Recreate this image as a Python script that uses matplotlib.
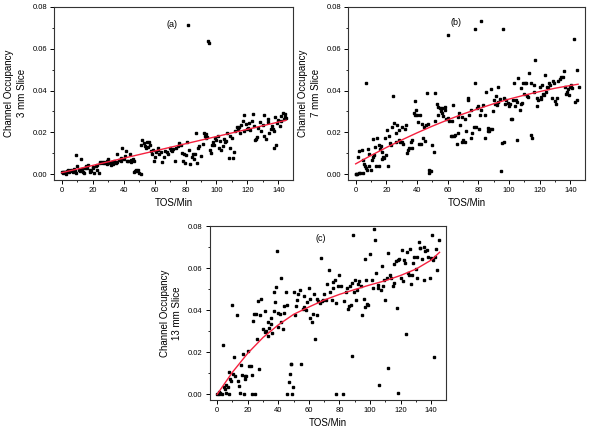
import matplotlib
matplotlib.use('Agg')
import matplotlib.pyplot as plt
from matplotlib.ticker import MultipleLocator

plt.rcParams['font.family'] = ['Liberation Sans', 'DejaVu Sans']

# panel (a) - 3 mm slice
a_x = [0, 0.5, 1, 1.5, 2, 2.5, 3, 3.5, 4, 4.5, 5, 6, 6.5, 7, 8, 8.5, 9, 9.5, 10, 11,
       12, 12.5, 13, 14, 14.5, 15, 16, 16.5, 17, 18, 18.5, 19, 20, 20.5, 21, 22, 22.5, 23, 24, 24.5,
       25, 26, 26.5, 27, 28, 29, 29.5, 30, 31, 32, 32.5, 33, 34, 35, 35.5, 36, 37, 38, 38.5, 39,
       40, 41, 41.5, 42, 43, 44, 44.5, 45, 46, 46.5, 47, 47.5, 48, 48.5, 49, 50, 51, 51.5, 52, 53,
       54, 54.5, 55, 56, 56.5, 57, 58, 58.5, 59, 59.5, 60, 61, 62, 62.5, 63, 64, 65, 66, 67, 68,
       69, 70, 70.5, 71, 72, 73, 74, 75, 76, 77, 78, 78.5, 79, 79.5, 80, 81, 81.5, 82, 83, 84,
       85, 85.5, 86, 87, 87.5, 88, 89, 90, 91, 92, 92.5, 93, 93.5, 94, 94.5, 95, 96, 96.5, 97, 98,
       98.5, 99, 100, 101, 101.5, 102, 103, 104, 105, 105.5, 106, 107, 108, 108.5, 109, 110, 111, 111.5, 112, 113,
       114, 114.5, 115, 116, 117, 117.5, 118, 119, 120, 120.5, 121, 122, 123, 123.5, 124, 125, 125.5, 126, 127, 128,
       129, 130, 130.5, 131, 132, 133, 133.5, 134, 135, 136, 136.5, 137, 137.5, 138, 138.5, 139, 140, 141, 141.5, 142,
       143, 143.5, 144, 144.5, 145]
a_y = [0.0012, 0.0008, 0.001, 0.0013, 0.0009, 0.0011, 0.0002, 0.0015, 0.002, 0.0012, 0.0018, 0.0022, 0.0015, 0.001, 0.0025, 0.0018, 0.0005, 0.0093, 0.0038, 0.0022,
       0.0018, 0.0072, 0.0025, 0.0012, 0.0008, 0.0032, 0.0042, 0.0028, 0.0045, 0.0012, 0.0022, 0.0015, 0.0035, 0.0028, 0.0005, 0.0038, 0.0022, 0.0045, 0.0005, 0.0055,
       0.0058, 0.006, 0.0052, 0.0058, 0.0055, 0.0048, 0.0065, 0.0072, 0.0055, 0.0045, 0.0058, 0.0048, 0.0062, 0.0055, 0.0095, 0.0058, 0.0068, 0.0078, 0.0065, 0.0125,
       0.0072, 0.0088, 0.011, 0.0065, 0.0062, 0.0095, 0.0068, 0.0058, 0.0072, 0.0065, 0.0012, 0.0015, 0.002, 0.0018, 0.0022, 0.0005, 0.0002, 0.014, 0.0163, 0.0148,
       0.0135, 0.0125, 0.0152, 0.013, 0.0155, 0.014, 0.011, 0.0095, 0.0115, 0.0065, 0.0085, 0.0105, 0.0118, 0.0125, 0.0098, 0.0105, 0.0058, 0.0082, 0.0112, 0.0108,
       0.0095, 0.0125, 0.0118, 0.0112, 0.012, 0.0062, 0.0128, 0.0135, 0.0148, 0.0142, 0.0102, 0.0062, 0.0095, 0.0052, 0.0092, 0.0155, 0.0715, 0.0118, 0.0048, 0.0085,
       0.0095, 0.0072, 0.0098, 0.0198, 0.0055, 0.0128, 0.0135, 0.0088, 0.0145, 0.0195, 0.0185, 0.0192, 0.0172, 0.0178, 0.0635, 0.0625, 0.0118, 0.0102, 0.0142, 0.0155,
       0.0142, 0.0172, 0.0162, 0.0185, 0.0128, 0.0158, 0.0118, 0.0135, 0.0168, 0.0152, 0.0158, 0.0195, 0.0078, 0.0182, 0.0125, 0.0172, 0.0078, 0.0108, 0.0205, 0.0228,
       0.0215, 0.0225, 0.0198, 0.0235, 0.0255, 0.0282, 0.0208, 0.0242, 0.0218, 0.0222, 0.0245, 0.0212, 0.0255, 0.0288, 0.0232, 0.0162, 0.0168, 0.0178, 0.0222, 0.0252,
       0.0205, 0.0235, 0.0182, 0.0285, 0.0168, 0.0252, 0.0262, 0.0198, 0.0215, 0.0232, 0.0218, 0.0208, 0.0125, 0.0275, 0.0142, 0.0245, 0.0258, 0.0232, 0.0255, 0.0278,
       0.0292, 0.0265, 0.0288, 0.0275, 0.0268]
a_fit_x = [0, 145]
a_fit_y = [0.0008, 0.0258]

# panel (b) - 7 mm slice
b_x = [0, 0.5, 1, 1.5, 2, 2.5, 3, 4, 4.5, 5, 5.5, 6, 6.5, 7, 7.5, 8, 8.5, 9, 10, 10.5,
       11, 11.5, 12, 12.5, 13, 14, 15, 15.5, 16, 16.5, 17, 17.5, 18, 18.5, 19, 20, 20.5, 21, 22, 22.5,
       23, 24, 24.5, 25, 26, 26.5, 27, 28, 28.5, 29, 30, 30.5, 31, 32, 33, 33.5, 34, 35, 36, 36.5,
       37, 38, 38.5, 39, 39.5, 40, 40.5, 41, 42, 42.5, 43, 44, 44.5, 45, 46, 46.5, 47, 47.5, 48, 48.5,
       49, 50, 51, 51.5, 52, 53, 53.5, 54, 55, 55.5, 56, 56.5, 57, 58, 58.5, 59, 60, 60.5, 61, 62,
       62.5, 63, 63.5, 64, 65, 66, 66.5, 67, 67.5, 68, 69, 69.5, 70, 71, 71.5, 72, 73, 73.5, 74, 75,
       75.5, 76, 77, 77.5, 78, 78.5, 79, 80, 80.5, 81, 81.5, 82, 83, 84, 84.5, 85, 86, 86.5, 87, 87.5,
       88, 89, 89.5, 90, 91, 91.5, 92, 92.5, 93, 94, 95, 95.5, 96, 96.5, 97, 97.5, 98, 99, 100, 100.5,
       101, 102, 102.5, 103, 104, 104.5, 105, 105.5, 106, 107, 107.5, 108, 108.5, 109, 110, 110.5, 111, 112, 112.5, 113,
       114, 114.5, 115, 116, 116.5, 117, 118, 118.5, 119, 120, 120.5, 121, 121.5, 122, 123, 123.5, 124, 125, 125.5, 126,
       127, 128, 128.5, 129, 130, 130.5, 131, 132, 133, 134, 135, 136, 136.5, 137, 138, 138.5, 139, 140, 140.5, 141,
       142.5, 143, 144, 144.5, 145.5]
b_y = [0.0, 0.0, 0.0, 0.0085, 0.011, 0.0005, 0.0005, 0.0115, 0.0068, 0.0005, 0.005, 0.004, 0.003, 0.0435, 0.0022, 0.012, 0.004, 0.0095, 0.0022, 0.007,
       0.017, 0.0082, 0.0092, 0.013, 0.0038, 0.0175, 0.014, 0.0038, 0.012, 0.0135, 0.0075, 0.0105, 0.0085, 0.008, 0.0175, 0.009, 0.021, 0.0038, 0.0185, 0.015,
       0.014, 0.0225, 0.0372, 0.0245, 0.0155, 0.0195, 0.0235, 0.0165, 0.021, 0.0155, 0.0225, 0.0155, 0.0145, 0.0215, 0.0235, 0.0102, 0.0115, 0.0125, 0.0155, 0.0128,
       0.0165, 0.0295, 0.0285, 0.035, 0.0305, 0.0282, 0.025, 0.0145, 0.0285, 0.0145, 0.024, 0.0175, 0.0225, 0.016, 0.0235, 0.039, 0.024, 0.0005, 0.002, 0.0015,
       0.0018, 0.014, 0.0105, 0.0388, 0.0255, 0.0335, 0.0285, 0.032, 0.0318, 0.03, 0.0315, 0.0295, 0.028, 0.0305, 0.032, 0.0265, 0.027, 0.0665, 0.0255, 0.0185,
       0.0255, 0.0185, 0.033, 0.0185, 0.019, 0.0145, 0.0275, 0.0195, 0.0295, 0.0235, 0.0155, 0.0275, 0.0162, 0.0265, 0.0155, 0.0205, 0.0355, 0.0365, 0.0285, 0.0175,
       0.0305, 0.0195, 0.0225, 0.0695, 0.0435, 0.0225, 0.0315, 0.0325, 0.0215, 0.0285, 0.073, 0.0305, 0.033, 0.0285, 0.0175, 0.0395, 0.0222, 0.0208, 0.0205, 0.0215,
       0.0405, 0.0215, 0.03, 0.0355, 0.0335, 0.0375, 0.033, 0.0415, 0.0345, 0.036, 0.0018, 0.015, 0.0695, 0.0365, 0.0155, 0.0335, 0.0355, 0.034, 0.0325, 0.0335,
       0.0265, 0.0265, 0.0355, 0.0435, 0.0325, 0.0355, 0.0165, 0.0345, 0.046, 0.0305, 0.041, 0.0335, 0.034, 0.0435, 0.0385, 0.0435, 0.0435, 0.0375, 0.037, 0.0485,
       0.0435, 0.019, 0.0175, 0.0395, 0.0425, 0.0545, 0.0325, 0.0365, 0.0355, 0.0415, 0.036, 0.037, 0.0425, 0.0385, 0.038, 0.0475, 0.0395, 0.0415, 0.041, 0.0435,
       0.0425, 0.0365, 0.0445, 0.0435, 0.035, 0.0335, 0.0365, 0.0445, 0.0455, 0.0465, 0.0465, 0.0495, 0.0415, 0.0385, 0.0395, 0.0405, 0.038, 0.0415, 0.0425, 0.041,
       0.0645, 0.0345, 0.05, 0.0355, 0.0415]
b_fit_x = [0, 10, 20, 30, 40, 50, 60, 70, 80, 90, 100, 110, 120, 130, 140, 145]
b_fit_y = [0.0050, 0.0090, 0.0128, 0.0164, 0.0198, 0.0230, 0.0260, 0.0288, 0.0313, 0.0337,
           0.0359, 0.0378, 0.0395, 0.0411, 0.0424, 0.0430]

# panel (c) - 13 mm slice
c_x = [0, 1, 1.5, 2, 3, 4, 4.5, 5, 5.5, 6, 7, 7.5, 8, 8.5, 9, 10, 10.5, 11, 12, 13,
       13.5, 14, 15, 15.5, 16, 17, 17.5, 18, 18.5, 19, 20, 21, 22, 22.5, 23, 23.5, 24, 25, 25.5, 26,
       27, 27.5, 28, 29, 30, 31, 31.5, 32, 33, 33.5, 34, 35, 35.5, 36, 37, 37.5, 38, 38.5, 39, 39.5,
       40, 41, 41.5, 42, 43, 43.5, 44, 45, 45.5, 46, 47, 47.5, 48, 48.5, 49, 49.5, 50, 51, 51.5, 52,
       53, 54, 55, 56, 56.5, 57, 58, 59, 60, 60.5, 61, 62, 63, 63.5, 64, 65, 65.5, 66, 67, 68,
       68.5, 69, 70, 71, 72, 73, 74, 75, 75.5, 76, 77, 77.5, 78, 79, 80, 81, 82, 83, 84, 85,
       85.5, 86, 87, 87.5, 88, 88.5, 89, 89.5, 90, 91, 91.5, 92, 93, 94, 95, 96, 96.5, 97, 97.5, 98,
       99, 100, 101, 102, 102.5, 103, 104, 105, 105.5, 106, 107, 108, 108.5, 109, 110, 111, 111.5, 112, 113, 114,
       115, 115.5, 116, 117, 117.5, 118, 118.5, 119, 120, 121, 121.5, 122, 123, 123.5, 124, 125, 125.5, 126, 127, 127.5,
       128, 129, 130, 130.5, 131, 132, 132.5, 133, 134, 135, 135.5, 136, 137, 138, 139, 140, 140.5, 141, 142, 142.5,
       143, 144, 145]
c_y = [0.0, 0.001, 0.0, 0.0005, 0.0, 0.0235, 0.0035, 0.0025, 0.0005, 0.0045, 0.0035, 0.0105, 0.0, 0.0075, 0.0065, 0.0425, 0.0095, 0.0175, 0.0085, 0.0375,
       0.0065, 0.004, 0.0005, 0.014, 0.009, 0.019, 0.0, 0.0085, 0.0075, 0.0085, 0.0205, 0.0135, 0.0135, 0.009, 0.0, 0.035, 0.038, 0.0, 0.038, 0.0265,
       0.0445, 0.012, 0.0375, 0.0455, 0.031, 0.0295, 0.0395, 0.03, 0.0275, 0.0345, 0.0315, 0.0365, 0.0335, 0.029, 0.0485, 0.0395, 0.044, 0.051, 0.068, 0.032,
       0.0385, 0.038, 0.0555, 0.0345, 0.031, 0.0385, 0.042, 0.0485, 0.0, 0.0425, 0.006, 0.0095, 0.0145, 0.0145, 0.0, 0.0035, 0.0485, 0.0375, 0.042, 0.045,
       0.0475, 0.0495, 0.0145, 0.0405, 0.0465, 0.0415, 0.04, 0.044, 0.0505, 0.0455, 0.0365, 0.0345, 0.038, 0.0475, 0.0265, 0.0455, 0.0375, 0.0445, 0.0435, 0.065,
       0.0445, 0.045, 0.0475, 0.045, 0.0525, 0.059, 0.0485, 0.045, 0.0505, 0.0535, 0.0545, 0.0, 0.0435, 0.0515, 0.0565, 0.0515, 0.0, 0.0445, 0.0485, 0.0505,
       0.0405, 0.042, 0.0515, 0.0425, 0.053, 0.018, 0.0755, 0.0485, 0.0545, 0.045, 0.0495, 0.0525, 0.054, 0.0515, 0.0375, 0.0455, 0.0645, 0.0415, 0.0545, 0.043,
       0.0425, 0.0665, 0.0545, 0.0505, 0.0785, 0.0735, 0.0575, 0.0505, 0.052, 0.0045, 0.0495, 0.061, 0.0515, 0.0545, 0.045, 0.0555, 0.0125, 0.067, 0.0565, 0.0555,
       0.0515, 0.062, 0.053, 0.0635, 0.041, 0.0005, 0.064, 0.0645, 0.0555, 0.0685, 0.054, 0.064, 0.0625, 0.0285, 0.0675, 0.0575, 0.0565, 0.069, 0.0525, 0.0565,
       0.0625, 0.0655, 0.0595, 0.0555, 0.0655, 0.0725, 0.0695, 0.0695, 0.0645, 0.0545, 0.07, 0.068, 0.0685, 0.0655, 0.0555, 0.065, 0.0755, 0.064, 0.0175, 0.0655,
       0.069, 0.059, 0.0735]
c_fit_x = [0, 10, 20, 30, 40, 50, 60, 70, 80, 90, 100, 110, 120, 130, 140, 145.5]
c_fit_y = [0.0, 0.0105, 0.0195, 0.027, 0.033, 0.038, 0.0415, 0.0448, 0.0475, 0.0498,
           0.052, 0.054, 0.0565, 0.0595, 0.0638, 0.0675]

panels = [
  ([0.0917, 0.5814, 0.4058, 0.4030], a_x, a_y, a_fit_x, a_fit_y, '(a)', (71, 0.0713), '3 mm Slice'),
  ([0.5908, 0.5814, 0.4024, 0.4030], b_x, b_y, b_fit_x, b_fit_y, '(b)', (65.5, 0.0727), '7 mm Slice'),
  ([0.3557, 0.0698, 0.4010, 0.4046], c_x, c_y, c_fit_x, c_fit_y, '(c)', (68, 0.0742), '13 mm Slice'),
]

fig = plt.figure(figsize=(5.89, 4.30), dpi=100)

for rect, xs, ys, fx, fy, tag, tag_pos, slice_name in panels:
  ax = fig.add_axes(rect)
  ax.plot(xs, ys, linestyle='none', marker='s', markersize=2.1, color='black')
  ax.plot(fx, fy, color='#f5203e', linewidth=1.0)
  ax.set_xlim(-5, 149.5)
  ax.set_ylim(-0.0027, 0.08)
  ax.xaxis.set_major_locator(MultipleLocator(20))
  ax.xaxis.set_minor_locator(MultipleLocator(10))
  ax.yaxis.set_major_locator(MultipleLocator(0.02))
  ax.yaxis.set_minor_locator(MultipleLocator(0.01))
  ax.yaxis.set_major_formatter(matplotlib.ticker.FormatStrFormatter('%.2f'))
  ax.tick_params(which='major', direction='out', length=3, width=0.7, labelsize=5.5, pad=2)
  ax.tick_params(which='minor', direction='out', length=1.5, width=0.6)
  for s in ax.spines.values():
    s.set_linewidth(0.8)
    s.set_color('#333333')
  ax.text(tag_pos[0], tag_pos[1], tag, fontsize=6.5, ha='center', va='center')
  ax.set_xlabel('TOS/Min', fontsize=7)
  ax.set_ylabel('Channel Occupancy\n' + slice_name, fontsize=7, linespacing=1.3)
  ax.xaxis.set_label_coords(0.5, -0.105)
  ax.yaxis.set_label_coords(-0.115, 0.5)

plt.savefig('out.png', dpi=100)
